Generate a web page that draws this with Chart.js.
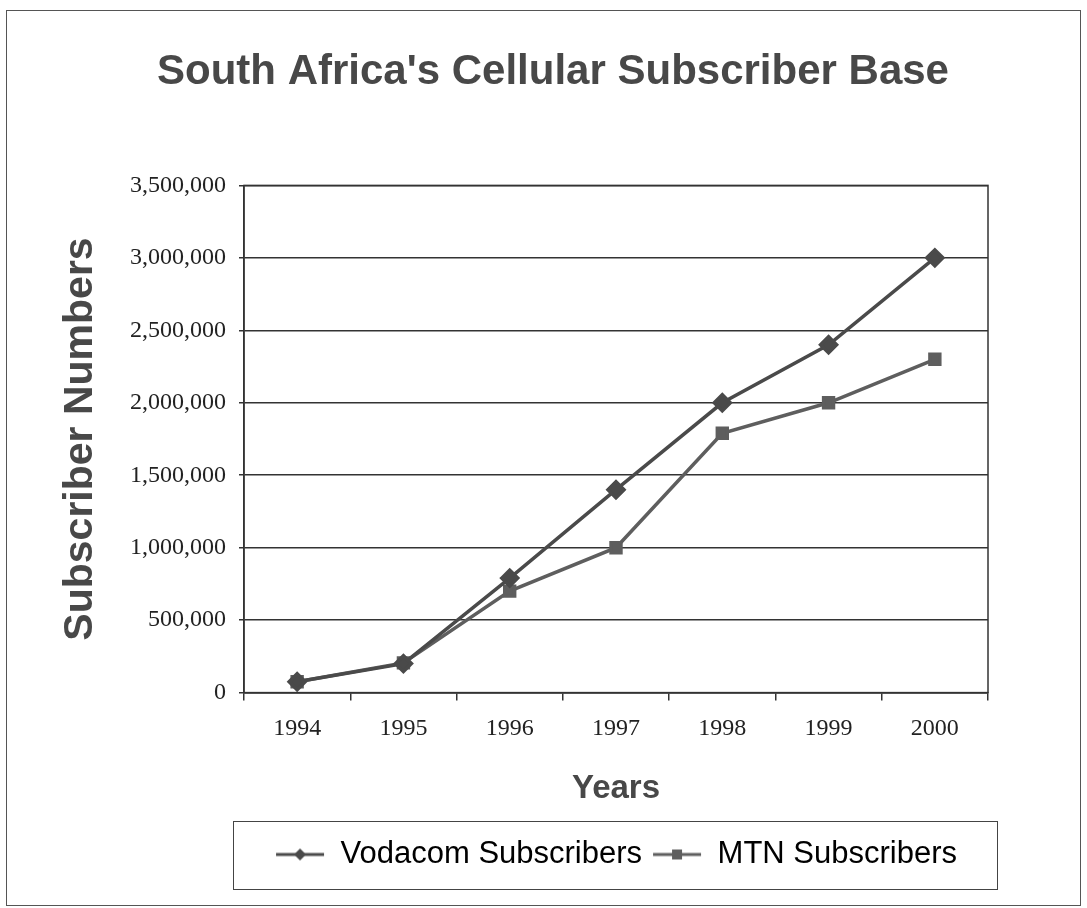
<!DOCTYPE html>
<html>
<head>
<meta charset="utf-8">
<script src="https://cdn.jsdelivr.net/npm/chart.js@4.4.0/dist/chart.umd.min.js"></script>
<style>
  html, body { margin: 0; padding: 0; background: #fff; }
  #wrap { width: 1087px; height: 908px; }
</style>
</head>
<body>
<div id="wrap"><canvas id="myChart" width="1087" height="908"></canvas></div>
<script>
var years = ['1994', '1995', '1996', '1997', '1998', '1999', '2000'];
var vodacom = [75000, 200000, 790000, 1400000, 2000000, 2400000, 3000000];
var mtn = [75000, 205000, 700000, 1000000, 1790000, 2000000, 2300000];
var seriesNames = ['Vodacom Subscribers', 'MTN Subscribers'];

function legendIcon(style, color) {
    var c = document.createElement('canvas');
    c.width = 50; c.height = 20;
    var g = c.getContext('2d');
    g.strokeStyle = color;
    g.lineWidth = 3;
    g.beginPath(); g.moveTo(1, 10); g.lineTo(49, 10); g.stroke();
    g.fillStyle = color;
    if (style == 'diamond') {
        g.beginPath(); g.moveTo(25, 4); g.lineTo(31, 10); g.lineTo(25, 16); g.lineTo(19, 10); g.closePath(); g.fill();
    } else {
        g.fillRect(20, 5, 10, 10);
    }
    return c;
}

var frame = {
    id: 'frame',
    afterDraw: function(chart) {
        var c = chart.ctx, a = chart.chartArea;
        c.save();
        c.strokeStyle = '#333';
        c.lineWidth = 1.5;
        c.strokeRect(a.left, a.top, a.right - a.left, a.bottom - a.top);
        // outer border
        c.strokeStyle = '#555';
        c.lineWidth = 1;
        c.strokeRect(6.5, 10.5, 1074, 895);
        // legend box
        var hb = chart.legend.legendHitBoxes;
        if (hb && hb.length) {
            var l = hb[0].left, r = hb[hb.length - 1].left + hb[hb.length - 1].width;
            var mid = hb[0].top + hb[0].height / 2;
            c.strokeStyle = '#444';
            c.strokeRect(Math.round(l - 42) + 0.5, Math.round(mid - 34) + 0.5, Math.round(r - l + 82), 68);
        }
        c.restore();
    }
};

var ctx = document.getElementById('myChart').getContext('2d');
var myChart = new Chart(ctx, {
    type: 'line',
    data: {
        labels: years,
        datasets: [{
            label: seriesNames[0],
            data: vodacom,
            borderColor: '#4a4a4a',
            backgroundColor: '#4a4a4a',
            borderWidth: 3.5,
            pointStyle: 'rectRot',
            pointRadius: 8,
            pointHoverRadius: 8,
            tension: 0
        }, {
            label: seriesNames[1],
            data: mtn,
            borderColor: '#5e5e5e',
            backgroundColor: '#5e5e5e',
            borderWidth: 3.5,
            pointStyle: 'rect',
            pointRadius: 7,
            pointHoverRadius: 7,
            tension: 0
        }]
    },
    options: {
        responsive: false,
        animation: false,
        layout: { padding: { left: 25, right: 6, top: 0, bottom: 28 } },
        plugins: {
            title: {
                display: true,
                text: "South Africa's Cellular Subscriber Base",
                color: '#484848',
                font: { family: 'Liberation Sans', size: 42, weight: 'bold' },
                padding: { top: 47, bottom: 88 }
            },
            legend: {
                position: 'bottom',
                fullSize: false,
                labels: {
                    usePointStyle: true,
                    pointStyleWidth: 50,
                    color: '#3a3a3a',
                    padding: 10,
                    font: { family: 'Liberation Sans', size: 31 },
                    generateLabels: function(chart) {
                        return [
                            { text: seriesNames[0], pointStyle: legendIcon('diamond', '#4a4a4a'), fillStyle: '#4a4a4a', strokeStyle: '#4a4a4a', lineWidth: 0, datasetIndex: 0 },
                            { text: seriesNames[1], pointStyle: legendIcon('square', '#5e5e5e'), fillStyle: '#5e5e5e', strokeStyle: '#5e5e5e', lineWidth: 0, datasetIndex: 1 }
                        ];
                    }
                }
            },
            tooltip: { enabled: false }
        },
        scales: {
            x: {
                offset: true,
                grid: { offset: true, drawOnChartArea: false, drawTicks: true, tickLength: 8, color: '#333', lineWidth: 1.5 },
                border: { color: '#333', width: 1.5 },
                ticks: { color: '#222', padding: 14, font: { family: 'Liberation Serif', size: 24 } },
                title: {
                    display: true,
                    text: 'Years',
                    color: '#484848',
                    font: { family: 'Liberation Sans', size: 33, weight: 'bold' },
                    padding: { top: 12, bottom: 20 }
                }
            },
            y: {
                min: 0,
                max: 3500000,
                afterFit: function(s) { s.width = 219; },
                grid: { color: '#333', lineWidth: 1.5, tickLength: 5 },
                border: { color: '#333', width: 1.5 },
                ticks: {
                    stepSize: 500000,
                    color: '#222',
                    padding: 13,
                    font: { family: 'Liberation Serif', size: 24 },
                    callback: function(v) { return v.toLocaleString('en-US'); }
                },
                title: {
                    display: true,
                    text: 'Subscriber Numbers',
                    color: '#484848',
                    font: { family: 'Liberation Sans', size: 41, weight: 'bold' },
                    padding: { top: 31, bottom: 0 }
                }
            },
            y2: {
                position: 'right',
                display: true,
                afterFit: function(s) { s.width = 93; },
                grid: { display: false, drawTicks: false },
                border: { display: false },
                ticks: { display: false }
            }
        }
    },
    plugins: [frame]
});
</script>
</body>
</html>
